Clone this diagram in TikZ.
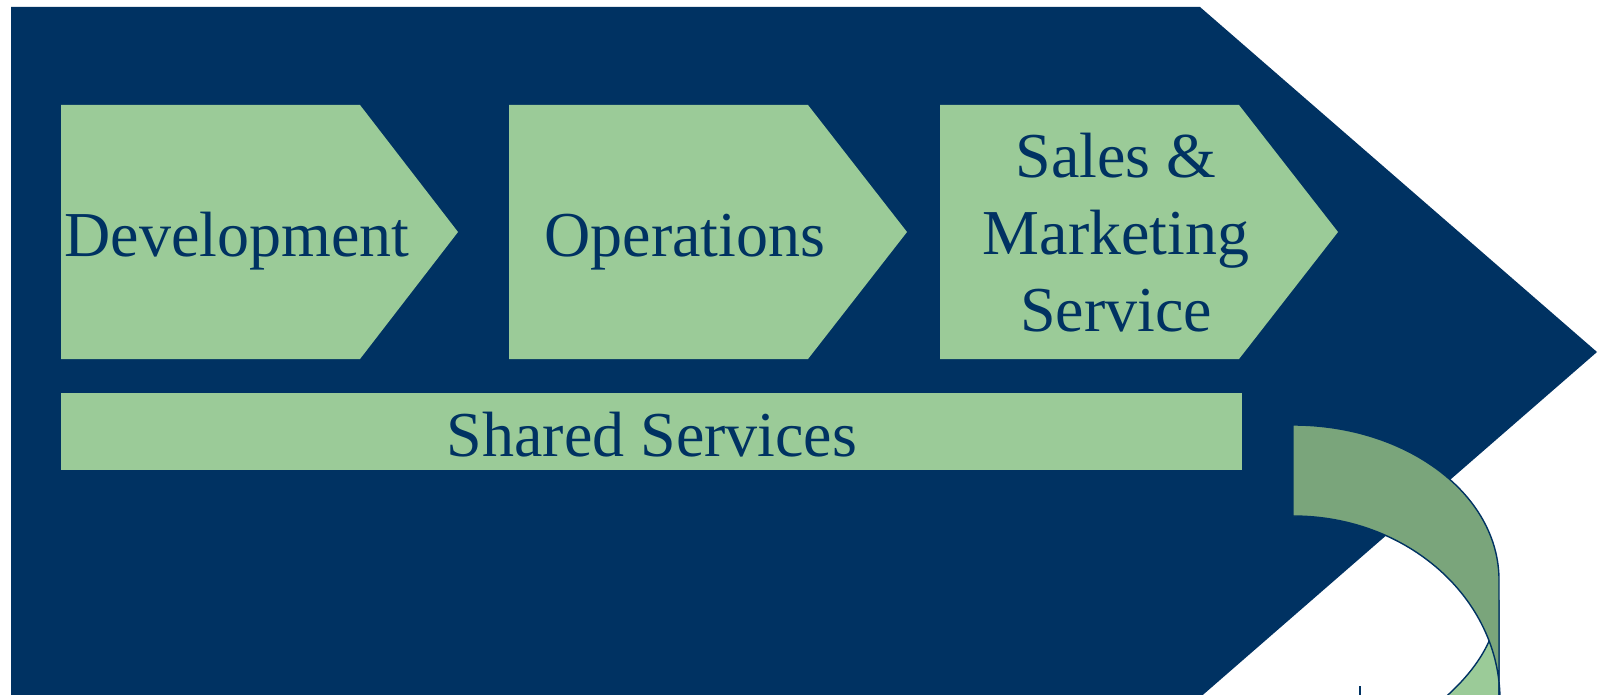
\documentclass[tikz,border=0pt]{standalone}
\usepackage{fontspec}
\setmainfont{Liberation Serif}
\definecolor{navy}{HTML}{003262}
\definecolor{boxgreen}{HTML}{9BCB98}
\definecolor{bandgreen}{HTML}{7AA57B}
\begin{document}
\begin{tikzpicture}[x=1pt,y=-1pt,
chev/.style={%
fill=boxgreen
},
lbl/.style={%
text=navy, font=\fontsize{64}{77}\selectfont, align=center, inner sep=0pt
},
band/.style={%
draw=navy, line width=1.4pt
}
]
\useasboundingbox (0,0) rectangle (1603,695);
\clip (0,0) rectangle (1603,695);
\fill[white] (0,0) rectangle (1603,695);
%% Big arrow
\fill[navy] (11,7) -- (1200,7) -- (1597,352) -- (1197,700) -- (11,700) -- cycle;
%% Chevrons
\fill[chev] (61,105) -- (360,105) -- (458,232) -- (360,359) -- (61,359) -- cycle;
\node[lbl,anchor=base] (dev) at (237,256) {Development};
\fill[chev] (509,105) -- (808,105) -- (907,232) -- (808,359) -- (509,359) -- cycle;
\node[lbl,anchor=base] (ops) at (685,256) {Operations};
\fill[chev] (940,105) -- (1239,105) -- (1338,232) -- (1239,359) -- (940,359) -- cycle;
\node[lbl] (sales) at (1116,233) {Sales \&\\Marketing\\Service};
%% Shared services bar
\fill[chev] (61,393) rectangle (1242,470);
\node[lbl,anchor=base] (shared) at (652,456) {Shared Services};
%% Curved arrow
\fill[boxgreen,band] (1499,600) .. controls (1497,640) and (1475,672) .. (1440,702) -- (1499,702) -- cycle;
\fill[bandgreen,band] (1293,425) arc[start angle=-90,end angle=0,x radius=206,y radius=155]
  -- (1499,700) -- (1500,700) arc[start angle=0,end angle=-90,x radius=207,y radius=184] -- cycle;
\draw[navy,line width=1.6pt] (1360,698) -- (1360,686);
\end{tikzpicture}
\end{document}
